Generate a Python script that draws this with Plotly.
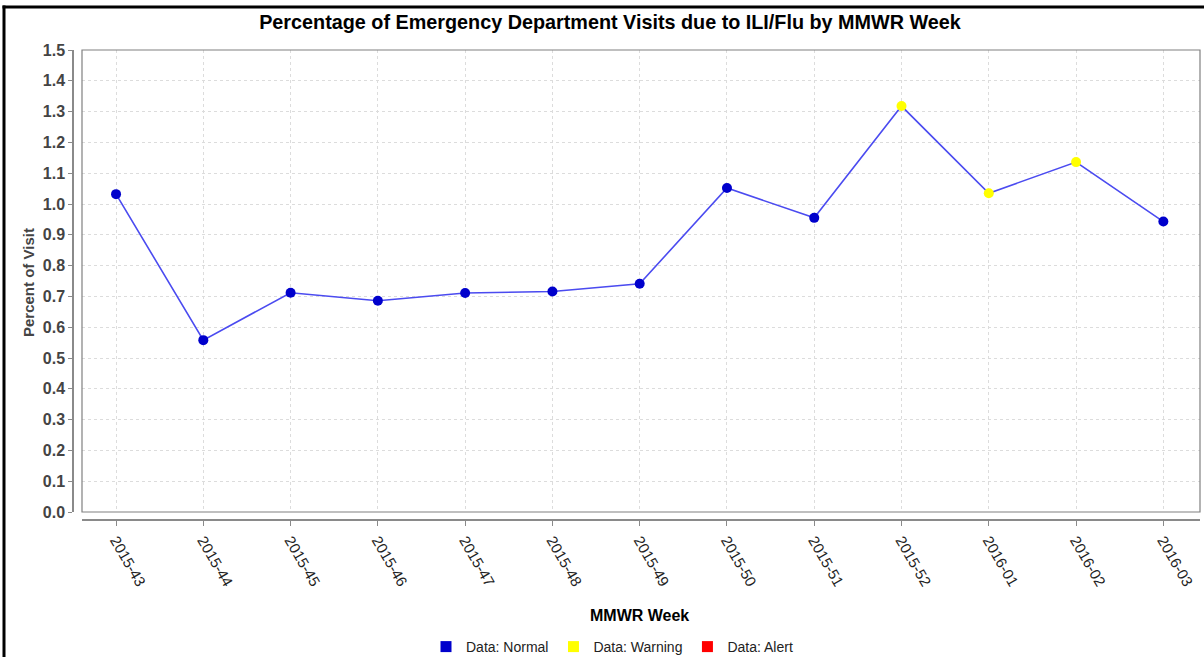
import plotly.graph_objects as go

weeks = ["2015-43", "2015-44", "2015-45", "2015-46", "2015-47", "2015-48", "2015-49",
         "2015-50", "2015-51", "2015-52", "2016-01", "2016-02", "2016-03"]
percent = [1.032, 0.558, 0.712, 0.686, 0.711, 0.716, 0.741, 1.052, 0.955, 1.318, 1.035, 1.136, 0.943]
status = ["Normal", "Normal", "Normal", "Normal", "Normal", "Normal", "Normal",
          "Normal", "Normal", "Warning", "Warning", "Warning", "Normal"]
status_colors = {"Normal": "#0000CC", "Warning": "#FFFF00", "Alert": "#FF0000"}
y_ticks = [round(i * 0.1, 1) for i in range(16)]

W, H = 1204, 657
px_x = lambda p: p / W
px_y = lambda p: (H - p) / H

fig = go.Figure()
fig.add_trace(go.Scatter(x=weeks, y=percent, mode="lines",
                         line=dict(color="#4B4BF0", width=1.6), showlegend=False, hoverinfo="skip"))
fig.add_trace(go.Scatter(x=weeks, y=percent, mode="markers",
                         marker=dict(color=[status_colors[s] for s in status], size=10, line=dict(width=0)),
                         showlegend=False))
for name in ["Normal", "Warning", "Alert"]:
    fig.add_trace(go.Scatter(x=[None], y=[None], mode="markers", name="Data: " + name,
                             marker=dict(symbol="square", size=11, color=status_colors[name])))

fig.update_layout(
    width=W, height=H,
    margin=dict(l=0, r=0, t=0, b=0, autoexpand=False),
    paper_bgcolor="white", plot_bgcolor="white",
    font=dict(family="Liberation Sans, Arial, sans-serif", color="#000"),
    title=dict(text="<b>Percentage of Emergency Department Visits due to ILI/Flu by MMWR Week</b>",
               x=px_x(610), xanchor="center", y=1 - 22 / H, yanchor="middle", yref="container",
               font=dict(size=19.8, color="#000")),
    xaxis=dict(domain=[px_x(82), px_x(1200)], anchor="free", position=px_y(520),
               type="category", range=[-0.39, 12.42], automargin=False,
               showline=True, linecolor="#8a8a8a", linewidth=1.5,
               ticks="outside", ticklen=5, tickcolor="#8a8a8a",
               tickangle=60, tickfont=dict(size=15, color="#222"),
               showgrid=True, gridcolor="#dcdcdc", griddash="3px,3px", gridwidth=1,
               zeroline=False),
    yaxis=dict(domain=[px_y(512), px_y(50)], anchor="free", position=px_x(73),
               range=[0, 1.5], tickvals=y_ticks, ticktext=[f"<b>{v:.1f}</b>" for v in y_ticks],
               automargin=False,
               showline=True, linecolor="#8a8a8a", linewidth=1.5,
               ticks="outside", ticklen=4, tickcolor="#8a8a8a",
               tickfont=dict(size=16, color="#444", family="Liberation Sans, Arial"),
               showgrid=True, gridcolor="#dcdcdc", griddash="3px,3px", gridwidth=1,
               zeroline=False),
    legend=dict(orientation="h", x=px_x(612), xanchor="center", y=px_y(647), yanchor="middle",
                font=dict(size=14, color="#222"), itemwidth=30, bgcolor="rgba(0,0,0,0)"),
    shapes=[
        dict(type="rect", xref="paper", yref="paper", x0=px_x(82), x1=px_x(1200),
             y0=px_y(512), y1=px_y(50), line=dict(color="#808080", width=1.2), layer="above"),
        dict(type="line", xref="paper", yref="paper", x0=px_x(4), x1=px_x(4),
             y0=0, y1=px_y(5.5), line=dict(color="#000", width=3), layer="above"),
        dict(type="line", xref="paper", yref="paper", x0=px_x(2.5), x1=1,
             y0=px_y(7), y1=px_y(7), line=dict(color="#000", width=3), layer="above"),
    ],
    annotations=[
        dict(text="<b>Percent of Visit</b>", x=px_x(28), y=px_y(283), xref="paper", yref="paper",
             xanchor="center", yanchor="middle",
             textangle=-90, showarrow=False, font=dict(size=15, color="#444")),
        dict(text="<b>MMWR Week</b>", x=px_x(639), y=px_y(615), xref="paper", yref="paper",
             xanchor="center", yanchor="middle",
             showarrow=False, font=dict(size=16, color="#000", family="Liberation Sans Narrow, Liberation Sans")),
    ],
)
fig.write_html("out.html", config={"displayModeBar": False},
               post_script="document.body.style.margin='0';")
